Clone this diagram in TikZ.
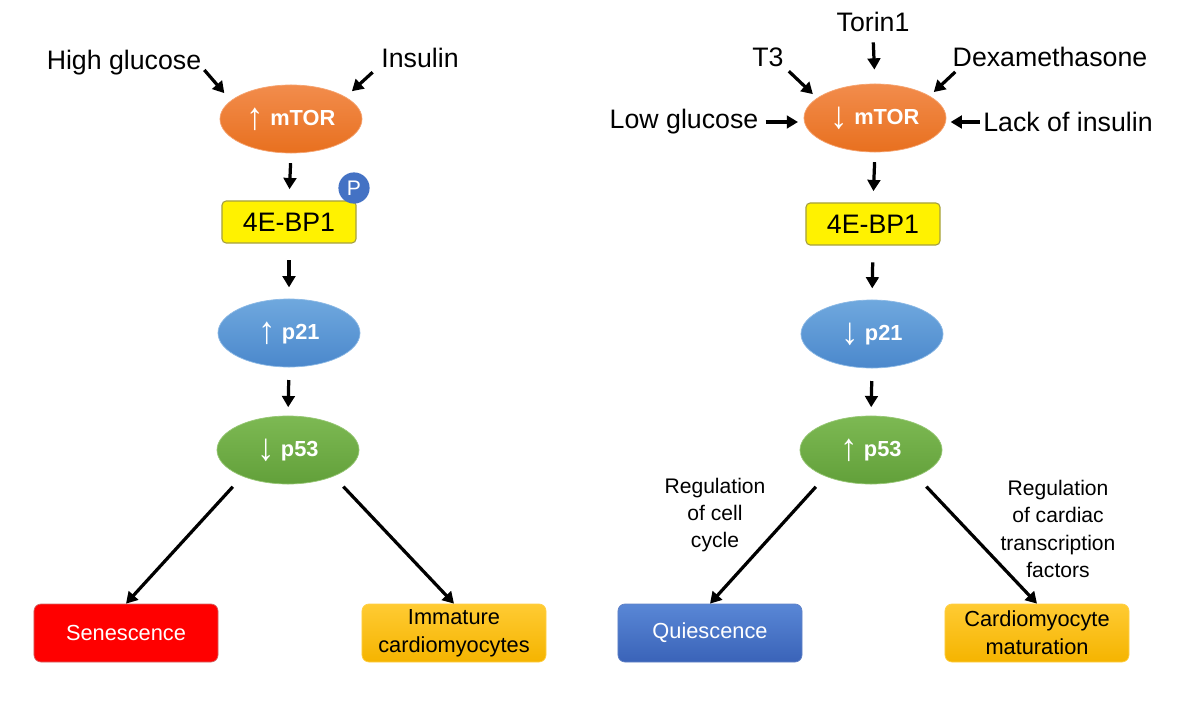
\documentclass[tikz,border=0pt]{standalone}
\usepackage{fontspec}
\setmainfont{Liberation Sans}
\usetikzlibrary{shapes.geometric,arrows.meta}
\definecolor{mtortop}{HTML}{F28C4C}
\definecolor{mtorbot}{HTML}{E8701F}
\definecolor{bluetop}{HTML}{6FA8DE}
\definecolor{bluebot}{HTML}{4B88CC}
\definecolor{greentop}{HTML}{7DB953}
\definecolor{greenbot}{HTML}{62A03A}
\definecolor{quitop}{HTML}{5987D6}
\definecolor{quibot}{HTML}{3A63B8}
\definecolor{goldtop}{HTML}{FFCB33}
\definecolor{goldbot}{HTML}{F5B400}
\definecolor{phosblue}{HTML}{4472C4}
\newcommand{\upar}{{\mdseries\raisebox{-2.5pt}{\scalebox{1.6}[1.75]{↑}}}}
\newcommand{\downar}{{\mdseries\raisebox{-2.5pt}{\scalebox{1.6}[1.75]{↓}}}}
\begin{document}
\begin{tikzpicture}[x=0.025cm,y=-0.025cm,
    lbl/.style={font=\fontsize{19}{22}\selectfont,inner sep=2pt},
    note/.style={font=\fontsize{15}{19.5}\selectfont,align=center,inner sep=1pt},
    ell/.style={ellipse,minimum width=3.55cm,minimum height=1.7cm,inner sep=0pt,
      text=white,font=\fontsize{15.5}{18}\selectfont\bfseries},
    orangeell/.style={top color=mtortop,bottom color=mtorbot,draw=mtortop!80!white,line width=0.5pt},
    blueell/.style={top color=bluetop,bottom color=bluebot,draw=bluetop!80!white,line width=0.5pt},
    greenell/.style={top color=greentop,bottom color=greenbot,draw=greentop!80!white,line width=0.5pt},
    bpbox/.style={rectangle,rounded corners=3pt,minimum width=3.35cm,minimum height=1.05cm,
      fill=yellow,draw=black!40!yellow,line width=0.8pt,font=\fontsize{19}{22}\selectfont},
    phos/.style={circle,minimum size=0.78cm,inner sep=0pt,fill=phosblue,text=white,
      font=\fontsize{15}{18}\selectfont},
    box/.style={rectangle,rounded corners=5pt,minimum width=4.6cm,minimum height=1.45cm,
      align=center,font=\fontsize{15.5}{20}\selectfont},
    redbox/.style={fill=red,draw=red!70!black!60,text=white,line width=0.5pt},
    quibox/.style={top color=quitop,bottom color=quibot,draw=quibot!80!white,text=white,line width=0.5pt},
    goldbox/.style={top color=goldtop,bottom color=goldbot,draw=goldtop!90!white,line width=0.5pt},
    arr/.style={-{Triangle[length=8pt,width=9pt]},line width=2.3pt}
  ]
  \useasboundingbox (0,0) rectangle (1181,702);

  \node[ell,orangeell] (mtorL) at (291,119) {\upar\ mTOR};
  \node[bpbox] (bpL) at (289,222) {4E-BP1};
  \node[phos] (pL) at (354,188) {P};
  \node[ell,blueell] (p21L) at (289,333) {\upar\ p21};
  \node[ell,greenell] (p53L) at (288,450) {\downar\ p53};
  \node[box,redbox] (sen) at (126,633) {Senescence};
  \node[box,goldbox] (imm) at (454,633) {Immature\\cardiomyocytes};
  \node[lbl,anchor=base] (hgluc) at (124,70) {High glucose};
  \node[lbl,anchor=base] (ins) at (420,68) {Insulin};

  \node[ell,orangeell] (mtorR) at (875,118) {\downar\ mTOR};
  \node[bpbox] (bpR) at (873,224) {4E-BP1};
  \node[ell,blueell] (p21R) at (872,334) {\downar\ p21};
  \node[ell,greenell] (p53R) at (871,450) {\upar\ p53};
  \node[box,quibox] (qui) at (710,633) {Quiescence};
  \node[box,goldbox] (mat) at (1037,633) {Cardiomyocyte\\maturation};
  \node[lbl,anchor=base] (torin) at (873,32) {Torin1};
  \node[lbl,anchor=base] (tthree) at (768,67) {T3};
  \node[lbl,anchor=base] (dexa) at (1050,67) {Dexamethasone};
  \node[lbl] (lgluc) at (684,122) {Low glucose};
  \node[lbl] (lackins) at (1068,122) {Lack of insulin};
  \node[note] (cellcyc) at (715,515) {Regulation\\of cell\\cycle};
  \node[note] (cardtf) at (1058,529) {Regulation\\of cardiac\\transcription\\factors};

  \begin{scope}[arr]
    \draw[shorten >=7pt] (hgluc.base east) -- (mtorL.163);
    \draw[shorten >=6pt] ([shift={(-4pt,-3pt)}]ins.base west) -- (mtorL.22);
    \draw[shorten <=7pt,shorten >=8pt] (mtorL.south) -- (bpL.north);
    \draw[shorten <=12pt,shorten >=8pt] (bpL.south) -- (p21L.north);
    \draw[shorten <=9pt,shorten >=6pt] (p21L.south) -- (p53L.north);
    \draw[shorten <=10pt] (p53L.210) -- (sen.north);
    \draw[shorten <=10pt] (p53L.330) -- (imm.north);

    \draw[shorten <=5pt,shorten >=10pt] (torin.south) -- (mtorR.north);
    \draw[shorten >=4pt] ([shift={(1.5pt,-3pt)}]tthree.base east) -- (mtorR.161);
    \draw[shorten >=4pt] ([shift={(4pt,-3.5pt)}]dexa.base west) -- (mtorR.22);
    \draw[shorten <=3pt,shorten >=4pt] (lgluc.east) -- (lgluc.east -| mtorR.west);
    \draw[shorten <=0.5pt,shorten >=3pt] (lackins.west) -- (lackins.west -| mtorR.east);
    \draw[shorten <=7pt,shorten >=8pt] (mtorR.south) -- (bpR.north);
    \draw[shorten <=12pt,shorten >=8pt] (bpR.south) -- (p21R.north);
    \draw[shorten <=9pt,shorten >=6pt] (p21R.south) -- (p53R.north);
    \draw[shorten <=10pt] (p53R.210) -- (qui.north);
    \draw[shorten <=10pt] (p53R.330) -- (mat.north);
  \end{scope}
\end{tikzpicture}
\end{document}
